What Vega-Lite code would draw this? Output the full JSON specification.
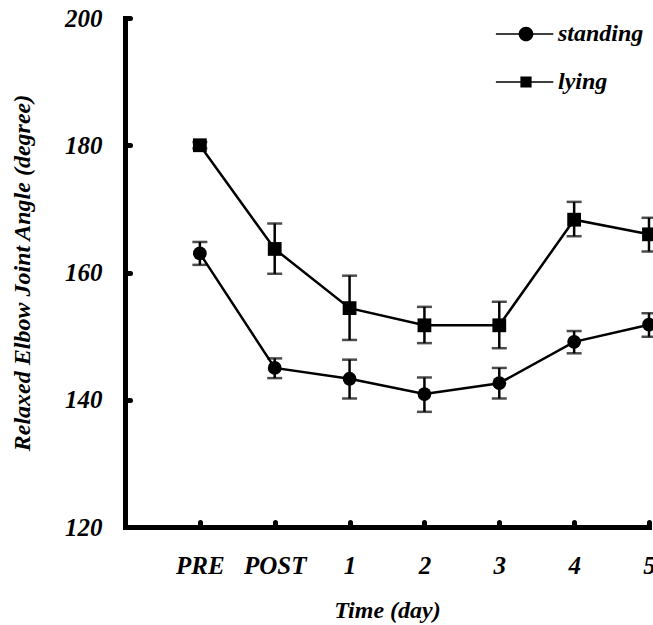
{
  "$schema": "https://vega.github.io/schema/vega-lite/v6.json",
  "width": 528,
  "height": 509,
  "autosize": {"type": "none"},
  "padding": {"left": 125, "top": 18, "right": 0, "bottom": 98},
  "background": "white",
  "config": {
    "view": {"stroke": null},
    "font": "Liberation Serif",
    "axis": {
      "domainColor": "black", "domainWidth": 5, "domainCap": "square",
      "tickColor": "black", "tickWidth": 5, "tickSize": -5, "tickCap": "round",
      "grid": false,
      "labelFont": "Liberation Serif", "labelFontSize": 25, "labelFontWeight": "bold", "labelFontStyle": "italic", "labelColor": "black",
      "titleFont": "Liberation Serif", "titleFontSize": 24, "titleFontWeight": "bold", "titleFontStyle": "italic", "titleColor": "black"
    },
    "legend": {
      "labelFont": "Liberation Serif", "labelFontSize": 24, "labelFontWeight": "bold", "labelFontStyle": "italic", "labelColor": "black"
    }
  },
  "data": {
    "values": [
      {"time": "PRE", "series": "standing", "mean": 163.0, "lo": 161.2, "hi": 164.8},
      {"time": "POST", "series": "standing", "mean": 145.0, "lo": 143.4, "hi": 146.5},
      {"time": "1", "series": "standing", "mean": 143.3, "lo": 140.2, "hi": 146.3},
      {"time": "2", "series": "standing", "mean": 140.9, "lo": 138.1, "hi": 143.5},
      {"time": "3", "series": "standing", "mean": 142.6, "lo": 140.2, "hi": 145.0},
      {"time": "4", "series": "standing", "mean": 149.1, "lo": 147.3, "hi": 150.8},
      {"time": "5", "series": "standing", "mean": 151.8, "lo": 149.9, "hi": 153.6},
      {"time": "PRE", "series": "lying", "mean": 180.0, "lo": 179.5, "hi": 180.5},
      {"time": "POST", "series": "lying", "mean": 163.7, "lo": 159.8, "hi": 167.7},
      {"time": "1", "series": "lying", "mean": 154.4, "lo": 149.4, "hi": 159.5},
      {"time": "2", "series": "lying", "mean": 151.7, "lo": 148.9, "hi": 154.6},
      {"time": "3", "series": "lying", "mean": 151.7, "lo": 148.1, "hi": 155.4},
      {"time": "4", "series": "lying", "mean": 168.3, "lo": 165.7, "hi": 171.1},
      {"time": "5", "series": "lying", "mean": 166.0, "lo": 163.3, "hi": 168.6}
    ]
  },
  "encoding": {
    "x": {
      "field": "time", "type": "ordinal",
      "scale": {"type": "point", "domain": ["", "PRE", "POST", "1", "2", "3", "4", "5"], "padding": 0, "range": [0, 524]},
      "axis": {"values": ["PRE", "POST", "1", "2", "3", "4", "5"], "labelAngle": 0, "labelPadding": 31, "title": "Time (day)", "titlePadding": 20}
    }
  },
  "layer": [
    {
      "mark": {"type": "line", "color": "black", "strokeWidth": 2.5},
      "encoding": {
        "y": {"field": "mean", "type": "quantitative", "title": "Relaxed Elbow Joint Angle (degree)",
              "scale": {"domain": [120, 200], "nice": false, "zero": false},
              "axis": {"values": [120, 140, 160, 180, 200], "labelPadding": 28, "titlePadding": 30}},
        "detail": {"field": "series", "type": "nominal"}
      }
    },
    {
      "mark": {"type": "rule", "color": "black", "strokeWidth": 2.5},
      "encoding": {
        "y": {"field": "lo", "type": "quantitative", "title": "Relaxed Elbow Joint Angle (degree)"},
        "y2": {"field": "hi"}
      }
    },
    {
      "mark": {"type": "tick", "color": "black", "orient": "horizontal", "size": 15, "thickness": 2.5},
      "encoding": {"y": {"field": "lo", "type": "quantitative", "title": "Relaxed Elbow Joint Angle (degree)"}}
    },
    {
      "mark": {"type": "tick", "color": "black", "orient": "horizontal", "size": 15, "thickness": 2.5},
      "encoding": {"y": {"field": "hi", "type": "quantitative", "title": "Relaxed Elbow Joint Angle (degree)"}}
    },
    {
      "mark": {"type": "point", "filled": true, "color": "black", "opacity": 1, "size": 190},
      "encoding": {
        "y": {"field": "mean", "type": "quantitative", "title": "Relaxed Elbow Joint Angle (degree)"},
        "shape": {"field": "series", "type": "nominal",
                  "scale": {"domain": ["standing", "lying"], "range": ["circle", "square"]},
                  "legend": null}
      }
    },
    {
      "mark": {"type": "point", "filled": true, "color": "black", "opacity": 0, "size": 196},
      "encoding": {
        "y": {"field": "mean", "type": "quantitative", "title": "Relaxed Elbow Joint Angle (degree)"},
        "shape": {"field": "series", "type": "nominal",
                  "scale": {"domain": ["standing", "lying"],
                            "range": ["M-4.3,-0.1H3.9V0.1H-4.3ZM1.05,0A1.05,1.05 0 1,1 -1.05,0A1.05,1.05 0 1,1 1.05,0Z",
                                      "M-4.3,-0.1H3.9V0.1H-4.3ZM-0.8,-0.8H0.8V0.8H-0.8Z"]},
                  "legend": {"title": null, "orient": "none", "legendX": 389, "legendY": 4,
                             "symbolSize": 196, "symbolFillColor": "black", "symbolStrokeColor": "black",
                             "symbolStrokeWidth": 0, "symbolOpacity": 1, "labelOffset": 20, "rowPadding": 24}}
      }
    }
  ],
  "resolve": {"scale": {"shape": "independent"}, "legend": {"shape": "independent"}}
}
